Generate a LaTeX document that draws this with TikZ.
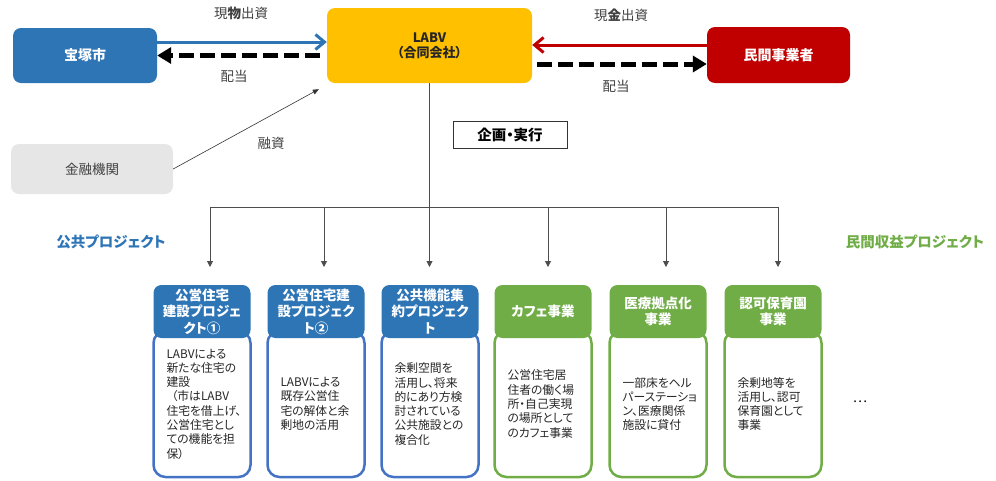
\documentclass[tikz,border=0pt]{standalone}
\usepackage{fontspec}
\setmainfont{Noto Sans CJK JP}[RawFeature=+palt]
\usetikzlibrary{arrows.meta,calc}

\definecolor{cityblue}{HTML}{2E75B6}
\definecolor{bodyblue}{HTML}{4472C4}
\definecolor{labvgold}{HTML}{FFC000}
\definecolor{privred}{HTML}{C00000}
\definecolor{bankgray}{HTML}{E6E6E6}
\definecolor{projgreen}{HTML}{70AD47}
\definecolor{labelgray}{HTML}{404040}
\definecolor{linegray}{HTML}{4D4D4D}

\begin{document}
\begin{tikzpicture}[
    x=1pt, y=-1pt,
    every node/.style={font=\fontsize{13.5}{16}\selectfont, text=labelgray},
    topbox/.style={
        rounded corners=8pt, align=center, inner sep=0pt,
        font=\fontsize{14}{15}\selectfont\bfseries
    },
    groupname/.style={font=\fontsize{14.5}{16}\selectfont\bfseries},
    pubhead/.style={
        fill=cityblue, rounded corners=8pt, inner sep=0pt,
        minimum width=97pt, minimum height=53pt,
        align=center, text=white,
        font=\fontsize{13.5}{16.5}\selectfont\bfseries
    },
    privhead/.style={pubhead, fill=projgreen},
    pubbody/.style={
        draw=bodyblue, line width=2.5pt, fill=white,
        rounded corners=12pt, inner sep=0pt,
        minimum width=97pt, minimum height=146pt,
        text width=71pt, align=left, text=black!85,
        font=\fontsize{11.8}{14.3}\selectfont
    },
    privbody/.style={pubbody, draw=projgreen},
    cityarrow/.style={
        draw=cityblue, line width=3pt,
        -{Straight Barb[length=9pt,width=15pt]}
    },
    redarrow/.style={
        draw=privred, line width=3pt,
        -{Straight Barb[length=9pt,width=15pt]}
    },
    divarrow/.style={
        draw=black, line width=5pt, dash pattern=on 15pt off 6pt,
        -{Triangle[length=14pt,width=16pt]}
    },
    loanarrow/.style={draw=black!80, line width=0.6pt, -{Triangle[length=6pt,width=5pt]}},
    busline/.style={draw=linegray, line width=0.9pt},
    downarrow/.style={busline, -{Triangle[length=6pt,width=6pt]}}
]

\useasboundingbox (0,0) rectangle (996,480);

% Beteiligte oben
\node[topbox, fill=cityblue, text=white, minimum width=144pt, minimum height=55pt]
    (takarazuka) at (85,55.5) {宝塚市};
\node[topbox, fill=labvgold, text=black!85, minimum width=205pt, minimum height=75pt,
    font=\fontsize{13}{15}\selectfont\bfseries]
    (labv) at (429.5,45.5) {LABV\\（合同会社）};
\node[topbox, fill=privred, text=white, minimum width=143pt, minimum height=56pt]
    (minkan) at (778.5,55) {民間事業者};
\node[topbox, fill=bankgray, minimum width=162pt, minimum height=50pt,
    font=\fontsize{13.5}{15}\selectfont]
    (kinyu) at (92,169) {金融機関};

% Kapital und Dividende
\coordinate (bs) at ([yshift=13.5pt]takarazuka.east);
\draw[cityarrow] (bs) -- (bs -| labv.west);
\coordinate (dl) at ($(takarazuka.east -| labv.west)+(-7,0)$);
\draw[divarrow] (dl) -- (takarazuka.east);
\coordinate (rs) at ([yshift=10pt]minkan.west);
\draw[redarrow] (rs) -- (rs -| labv.east);
\coordinate (ds) at ([yshift=-9pt]minkan.west);
\coordinate (dr) at ($(ds -| labv.east)+(5,0)$);
\draw[divarrow] (dr) -- (ds);
\coordinate (ft) at ($(labv.south west)+(-8,6)$);
\draw[loanarrow] (kinyu.east) -- (ft);

\node (lgenbutsu) at (241,13) {現\textbf{物}出資};
\node (lhaitou1)  at (234,76) {配当};
\node (lgenkin)   at (621,15) {現\textbf{金}出資};
\node (lhaitou2)  at (616,86) {配当};
\node (lyuushi)   at (271,143) {融資};

% Planung und Umsetzung
\node[draw=black!80, line width=1pt, minimum width=114pt, minimum height=27pt,
    inner sep=0pt, text=black, font=\fontsize{14.5}{16}\selectfont\bfseries]
    (kikaku) at (510,135) {企画・実行};

% Verteiler
\coordinate (bus1) at (210,207);
\coordinate (bus2) at (324,207);
\coordinate (bus4) at (548,207);
\coordinate (bus5) at (666,207);
\coordinate (bus6) at (778,207);
\coordinate (tip1) at (210,267);
\coordinate (tip2) at (324,267);
\coordinate (tip3) at (429.5,267);
\coordinate (tip4) at (548,267);
\coordinate (tip5) at (666,267);
\coordinate (tip6) at (778,267);
\draw[busline] (bus1) -- (bus6);
\draw[downarrow] (labv.south) -- (tip3);
\draw[downarrow] (bus1) -- (tip1);
\draw[downarrow] (bus2) -- (tip2);
\draw[downarrow] (bus4) -- (tip4);
\draw[downarrow] (bus5) -- (tip5);
\draw[downarrow] (bus6) -- (tip6);

% Gruppentitel
\node[groupname, text=cityblue]  (pubtitle)  at (111,242) {公共プロジェクト};
\node[groupname, text=projgreen] (privtitle) at (915,242) {民間収益プロジェクト};

% Spalte 1: Wohnbau 1
\node[pubbody] (b1) at (202,404)
    {LABVによる\\新たな住宅の\\建設\\\hspace*{5pt}（市はLABV\\住宅を借上げ、\\公営住宅とし\\ての機能を担\\保）};
\node[pubhead] (h1) at (202,311.5) {公営住宅\\建設プロジェ\\クト①};

% Spalte 2: Wohnbau 2
\node[pubbody] (b2) at (316,404)
    {LABVによる\\既存公営住\\宅の解体と余\\剰地の活用};
\node[pubhead] (h2) at (316,311.5) {公営住宅建\\設プロジェク\\ト②};

% Spalte 3: Funktionsbuendelung
\node[pubbody] (b3) at (430,404)
    {余剰空間を\\活用し、将来\\的にあり方検\\討されている\\公共施設との\\複合化};
\node[pubhead] (h3) at (430,311.5) {公共機能集\\約プロジェク\\ト};

% Spalte 4: Cafe
\node[privbody] (b4) at (543,404)
    {公営住宅居\\住者の働く場\\所・自己実現\\の場所として\\のカフェ事業};
\node[privhead] (h4) at (543,311.5) {カフェ事業};

% Spalte 5: Medizin
\node[privbody] (b5) at (658,404)
    {一部床をヘル\\パーステーショ\\ン、医療関係\\施設に貸付};
\node[privhead] (h5) at (658,311.5) {医療拠点化\\事業};

% Spalte 6: Kita
\node[privbody] (b6) at (773,404)
    {余剰地等を\\活用し、認可\\保育園として\\事業};
\node[privhead] (h6) at (773,311.5) {認可保育園\\事業};

\node[text=black] (more) at (860,402) {…};

\end{tikzpicture}
\end{document}
